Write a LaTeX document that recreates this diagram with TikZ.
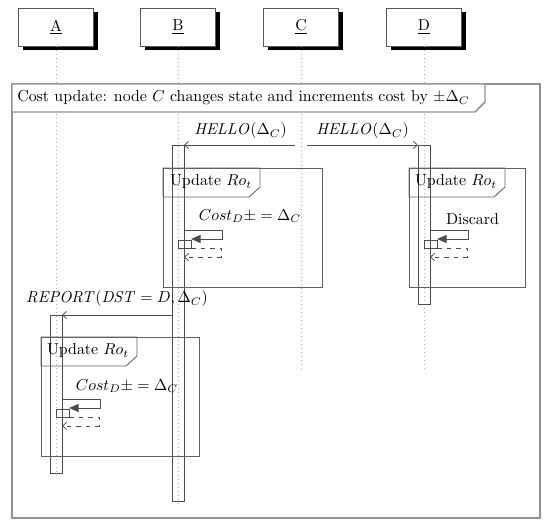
\documentclass[tikz,border=0pt]{standalone}
\usetikzlibrary{arrows.meta}
\newcommand\mySelf[3]{% #1 lifeline x, #2 top y, #3 prefix
  \coordinate (#3a) at (#1+6,#2);
  \coordinate (#3b) at (#1+44,#2);
  \coordinate (#3c) at (#1+44,#2+9);
  \coordinate (#3d) at (#1+13,#2+9);
  \draw[act,-{Triangle[length=6pt,width=5pt]}] (#3a) -- (#3b) -- (#3c) -- (#3d);
  \draw[act] (#1,#2+10) rectangle (#1+13,#2+18);
  \coordinate (#3e) at (#1+13,#2+18);
  \coordinate (#3f) at (#1+43,#2+18);
  \coordinate (#3g) at (#1+43,#2+27);
  \coordinate (#3h) at (#1+6,#2+27);
  \draw[act,dashed,-{Straight Barb[length=2.5pt,width=4.5pt]}] (#3e) -- (#3f) -- (#3g) -- (#3h);
}
\begin{document}
\begin{tikzpicture}[x=0.63pt,y=-0.63pt,
  inst/.style={draw=gray!70!black, fill=white, line width=0.5pt, minimum width=47.25pt, minimum height=23.9pt, inner sep=0pt},
  ofrm/.style={draw=gray!85, line width=0.9pt},
  frm/.style={draw=gray!75!black, line width=0.55pt},
  act/.style={draw=gray!60!black, line width=0.5pt},
  life/.style={draw=gray!60, dotted, line width=0.5pt},
  msg/.style={draw=gray!60!black, line width=0.5pt, -{Straight Barb[length=2.5pt,width=4.5pt]}},
  lbl/.style={inner sep=0pt, anchor=center}]
\useasboundingbox (0,0) rectangle (550,527);
% instances
\foreach \n/\x in {A/56,B/178,C/301,D/424}{
  \fill[black] (\x-33.5,12) rectangle (\x+41.5,50);
  \node[inst] (\n) at (\x,27) {\underline{\n}};
}
% lifelines
\coordinate (Aend) at (56,478);
\coordinate (Bend) at (178,503);
\coordinate (Cend) at (301,368);
\coordinate (Dend) at (424,368);
\foreach \n in {A,B,C,D}{ \draw[life] (\n.south) -- (\n end); }
% outer frame
\draw[ofrm] (12,84) rectangle (540,518);
\draw[ofrm, fill=white] (12,84) -- (485,84) -- (485,102) -- (475,112) -- (12,112) -- cycle;
\node[lbl, anchor=west] (outerlbl) at (17,98) {Cost update: node $C$ changes state and increments cost by $\pm\Delta_C$};
% activations
\draw[act] (172,145) rectangle (184,501);
\draw[act] (418,145) rectangle (430,304);
\draw[act] (50,315) rectangle (62,473);
% messages
\coordinate (m1s) at (295,145);
\coordinate (m1e) at (184,145);
\coordinate (m2s) at (307,145);
\coordinate (m2e) at (418,145);
\draw[msg] (m1s) -- (m1e);
\draw[msg] (m2s) -- (m2e);
\node[lbl] (h1) at (240.5,131) {$\mathit{HELLO}(\Delta_C)$};
\node[lbl] (h2) at (362.5,131) {$\mathit{HELLO}(\Delta_C)$};
\coordinate (m3s) at (172,315);
\coordinate (m3e) at (62,315);
\draw[msg] (m3s) -- (m3e);
\node[lbl] (rep) at (117,299) {$\mathit{REPORT}(\mathit{DST}=D,\Delta_C)$};
% B frame
\draw[frm] (163,168) rectangle (322,287);
\draw[frm] (163,168) -- (260,168) -- (260,187) -- (249,197) -- (163,197) -- cycle;
\node[lbl] (bu) at (211,182) {Update $Ro_t$};
\node[lbl] (bc) at (250,216) {$Cost_D\pm=\Delta_C$};
\mySelf{178}{230}{bs}
% D frame
\draw[frm] (409,168) rectangle (525,287);
\draw[frm] (409,168) -- (505,168) -- (505,187) -- (494,197) -- (409,197) -- cycle;
\node[lbl] (du) at (456,182) {Update $Ro_t$};
\node[lbl] (dd) at (472.5,219) {Discard};
\mySelf{424}{230}{ds}
% A frame
\draw[frm] (41,337) rectangle (199,456);
\draw[frm] (41,337) -- (137,337) -- (137,356) -- (126,366) -- (41,366) -- cycle;
\node[lbl] (au) at (88,351) {Update $Ro_t$};
\node[lbl] (ac) at (127,386) {$Cost_D\pm=\Delta_C$};
\mySelf{56}{399}{as}
\end{tikzpicture}
\end{document}
